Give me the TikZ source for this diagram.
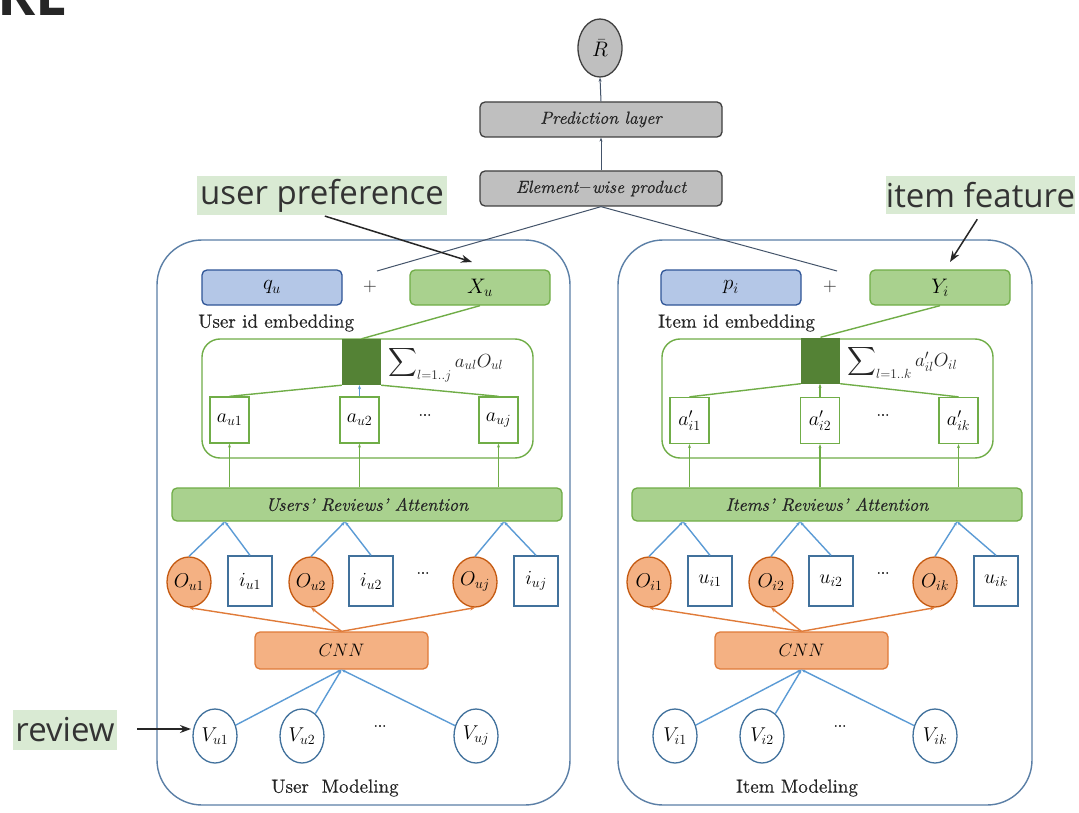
\RequirePackage{fix-cm}
\documentclass[tikz,border=0pt]{standalone}
\usepackage{fontspec}
\setmainfont{lmroman10-regular.otf}[
  ItalicFont=lmroman10-italic.otf,
  BoldFont=lmroman10-bold.otf,
  BoldItalicFont=lmroman10-bolditalic.otf,
  FakeBold=0.5]
\usetikzlibrary{shapes.geometric,arrows.meta,calc}
\newfontfamily\notefont{Open Sans}

\definecolor{panelblue}{HTML}{5B7FA6}
\definecolor{grayfill}{HTML}{BFBFBF}
\definecolor{grayline}{HTML}{3F3F3F}
\definecolor{idfill}{HTML}{B4C7E7}
\definecolor{idline}{HTML}{2F5597}
\definecolor{gfill}{HTML}{A9D18E}
\definecolor{gline}{HTML}{70AD47}
\definecolor{gdark}{HTML}{548235}
\definecolor{ofill}{HTML}{F4B183}
\definecolor{oline}{HTML}{C55A11}
\definecolor{olink}{HTML}{E07B39}
\definecolor{blink}{HTML}{5B9BD5}
\definecolor{nodeblue}{HTML}{41719C}
\definecolor{toplink}{HTML}{44546A}
\definecolor{notebg}{HTML}{D9EAD3}
\definecolor{notetext}{HTML}{333333}
\definecolor{labeltext}{HTML}{262626}

\tikzset{
  txt/.style={inner sep=0pt, text=labeltext, font=\fontsize{19}{20}\selectfont},
  graybox/.style={rectangle, rounded corners=5pt, draw=grayline, fill=grayfill,
    line width=1.3pt, minimum width=242pt, minimum height=35pt, text=labeltext,
    font=\fontsize{17.5}{19}\selectfont\itshape},
  topnode/.style={ellipse, draw=grayline, fill=grayfill, line width=1.3pt,
    minimum width=44pt, minimum height=58pt, inner sep=0pt, font=\fontsize{21}{21}\selectfont},
  idbox/.style={rectangle, rounded corners=5pt, draw=idline, fill=idfill,
    line width=1.3pt, minimum width=140pt, minimum height=35pt, font=\fontsize{21}{21}\selectfont},
  featbox/.style={idbox, draw=gline, fill=gfill},
  container/.style={rectangle, draw=gline, line width=1.4pt, rounded corners=18pt,
    minimum width=331pt, minimum height=119pt},
  wsum/.style={rectangle, fill=gdark, minimum width=39pt, minimum height=46pt, inner sep=0pt},
  abox/.style={rectangle, draw=gline, fill=white, line width=1.3pt,
    minimum width=39pt, minimum height=46pt, inner sep=0pt, font=\fontsize{20}{20}\selectfont},
  attn/.style={rectangle, draw=gline, fill=gfill, rounded corners=5pt, line width=1.3pt,
    minimum width=390pt, minimum height=33pt, text=labeltext,
    font=\fontsize{18}{20}\selectfont\itshape},
  onode/.style={ellipse, draw=oline, fill=ofill, line width=1.3pt,
    minimum width=44pt, minimum height=50pt, inner sep=0pt, font=\fontsize{20}{20}\selectfont},
  ibox/.style={rectangle, draw=nodeblue, fill=white, line width=1.3pt,
    minimum width=44pt, minimum height=50pt, inner sep=0pt, font=\fontsize{20}{20}\selectfont},
  cnnbox/.style={rectangle, draw=olink, fill=ofill, rounded corners=5pt, line width=1.3pt,
    minimum width=173pt, minimum height=37pt, font=\fontsize{18}{20}\selectfont},
  vnode/.style={ellipse, draw=nodeblue, fill=white, line width=1.3pt,
    minimum width=44pt, minimum height=54pt, inner sep=0pt, font=\fontsize{20}{20}\selectfont},
  panel/.style={draw=panelblue, line width=1.4pt, rounded corners=45pt},
  note/.style={fill=notebg, text=notetext, inner sep=0pt,
    font=\notefont\fontsize{33}{33}\selectfont},
  toplinkstyle/.style={draw=toplink, line width=1pt},
  uparrow/.style={toplinkstyle, -{Stealth[length=4pt,width=3pt]}},
  gconn/.style={draw=gline, line width=1.4pt},
  garrow/.style={gconn, -{Stealth[length=4pt,width=3pt]}},
  barrow/.style={draw=blink, line width=1.4pt, -{Stealth[length=4pt,width=3pt]}},
  oarrow/.style={draw=olink, line width=1.4pt, -{Stealth[length=5pt,width=4pt]}},
  notearrow/.style={draw=black!85, line width=1.5pt, -{Stealth[length=11pt,width=8pt]}},
  dotsnode/.style={inner sep=0pt, font=\fontsize{15}{15}\selectfont},
}

% large weighted-sum sign with its range set to the lower right
\newcommand{\bigsum}{\mathop{\vcenter{\hbox{\scalebox{2.0}{$\displaystyle\sum$}}}}\nolimits}

\begin{document}
\begin{tikzpicture}[x=1pt, y=-1pt]
\useasboundingbox (0,0) rectangle (1079,813);
\fill[white] (0,0) rectangle (1079,813);

% slide heading, only its lower edge is inside the frame
\begin{scope}
  \clip (0,0) rectangle (1079,813);
  \node[anchor=base west, inner sep=0pt, text=black!85,
        font=\notefont\bfseries\fontsize{58}{58}\selectfont] (heading) at (-3,16) {RE};
\end{scope}

% ---------- output stage ----------
\node[topnode] (R) at (600,48) {$\bar{R}$};
\node[graybox] (pred) at (601,119.5) {Prediction layer};
\node[graybox] (elem) at (601,188.5) {Element$-$wise product};
\draw[uparrow] (pred.north) -- (R.south);
\draw[uparrow] (elem.north) -- (pred.south);

% ---------- two modelling panels ----------
\draw[panel] (157,240) rectangle (570,805);
\draw[panel] (618,240) rectangle (1032,805);

% ===== user side =====
\node[idbox] (qu) at (272,287.5) {$q_u$};
\node[txt, font=\fontsize{19}{19}\selectfont] (plusU) at (370,287) {$+$};
\node[featbox] (Xu) at (480,287.5) {$X_u$};
\node[txt, anchor=west] (uemb) at (198,323) {User id embedding};

\node[container] (ucont) at (367.5,398.5) {};
\node[wsum] (usq) at (361.5,362) {};
\node[txt, anchor=west, font=\fontsize{19}{20}\selectfont] (usum) at (388,364)
  {$\bigsum_{l=1..j} a_{ul}O_{ul}$};
\node[abox] (au1) at (229.5,420) {$a_{u1}$};
\node[abox] (au2) at (359.5,420) {$a_{u2}$};
\node[abox] (auj) at (498.5,420) {$a_{uj}$};
\node[dotsnode] (udotsA) at (425,415) {...};
\draw[gconn] (au1.north) -- (usq.south west);
\draw[gconn] (auj.north) -- (usq.south east);
\draw[barrow] (au2.north) -- (usq.south -| au2.north);
\draw[gconn] (usq.north) -- (Xu.south);

\node[attn] (uatt) at (367,504.5) {Users' Reviews' Attention};
\draw[garrow] (uatt.north -| au1) -- (au1.south);
\draw[garrow] (uatt.north -| au2) -- (au2.south);
\draw[garrow] (uatt.north -| auj) -- (auj.south);

\node[onode] (Ou1) at (189,582) {$O_{u1}$};
\node[ibox]  (iu1) at (250,581) {$i_{u1}$};
\node[onode] (Ou2) at (311,582) {$O_{u2}$};
\node[ibox]  (iu2) at (371,581) {$i_{u2}$};
\node[dotsnode] (udotsB) at (423,573) {...};
\node[onode] (Ouj) at (475,582) {$O_{uj}$};
\node[ibox]  (iuj) at (536,581) {$i_{uj}$};

\coordinate (uap1) at (uatt.south -| 225,0);
\coordinate (uap2) at (uatt.south -| 345,0);
\coordinate (uap3) at (uatt.south -| 504,0);
\draw[barrow] (Ou1.north) -- (uap1);
\draw[barrow] (iu1.north) -- (uap1);
\draw[barrow] (Ou2.north) -- (uap2);
\draw[barrow] (iu2.north) -- (uap2);
\draw[barrow] (Ouj.north) -- (uap3);
\draw[barrow] (iuj.north) -- (uap3);

\node[cnnbox] (ucnn) at (341.5,650.5) {$CNN$};
\draw[oarrow] (ucnn.north) -- (Ou1.south);
\draw[oarrow] (ucnn.north) -- (Ou2.south);
\draw[oarrow] (ucnn.north) -- (Ouj.south);

\node[vnode] (Vu1) at (215,736) {$V_{u1}$};
\node[vnode] (Vu2) at (302,736) {$V_{u2}$};
\node[dotsnode] (udotsC) at (380,726) {...};
\node[vnode] (Vuj) at (476,736) {$V_{uj}$};
\draw[barrow] (Vu1) -- (ucnn.south);
\draw[barrow] (Vu2) -- (ucnn.south);
\draw[barrow] (Vuj) -- (ucnn.south);
\node[txt] (ulabel) at (335,788) {User\ \ Modeling};

% ===== item side =====
\node[idbox] (pi) at (731,287.5) {$p_i$};
\node[txt, font=\fontsize{19}{19}\selectfont] (plusI) at (830,287) {$+$};
\node[featbox] (Yi) at (940,287.5) {$Y_i$};
\node[txt, anchor=west] (iemb) at (658,323) {Item id embedding};

\node[container] (icont) at (827.5,398.5) {};
\node[wsum] (isq) at (820.5,360.5) {};
\node[txt, anchor=west, font=\fontsize{19}{20}\selectfont] (isum) at (847,362)
  {$\bigsum_{l=1..k} a'_{il}O_{il}$};
\node[abox] (ai1) at (689.5,420.5) {$a'_{i1}$};
\node[abox] (ai2) at (820,420.5) {$a'_{i2}$};
\node[abox] (aik) at (958.5,420.5) {$a'_{ik}$};
\node[dotsnode] (idotsA) at (883,415) {...};
\draw[gconn] (ai1.north) -- (isq.south west);
\draw[gconn] (aik.north) -- (isq.south east);
\draw[garrow] (ai2.north) -- (isq.south -| ai2.north);
\draw[gconn] (isq.north) -- (Yi.south);

\node[attn] (iatt) at (827,504.5) {Items' Reviews' Attention};
\draw[garrow] (iatt.north -| ai1) -- (ai1.south);
\draw[garrow] (iatt.north -| ai2) -- (ai2.south);
\draw[garrow] (iatt.north -| aik) -- (aik.south);

\node[onode] (Oi1) at (649,582) {$O_{i1}$};
\node[ibox]  (ui1) at (710,581) {$u_{i1}$};
\node[onode] (Oi2) at (771,582) {$O_{i2}$};
\node[ibox]  (ui2) at (831,581) {$u_{i2}$};
\node[dotsnode] (idotsB) at (883,573) {...};
\node[onode] (Oik) at (935,582) {$O_{ik}$};
\node[ibox]  (uik) at (996,581) {$u_{ik}$};

\coordinate (iap1) at (iatt.south -| 683,0);
\coordinate (iap2) at (iatt.south -| 800,0);
\coordinate (iap3) at (iatt.south -| 957,0);
\draw[barrow] (Oi1.north) -- (iap1);
\draw[barrow] (ui1.north) -- (iap1);
\draw[barrow] (Oi2.north) -- (iap2);
\draw[barrow] (ui2.north) -- (iap2);
\draw[barrow] (Oik.north) -- (iap3);
\draw[barrow] (uik.north) -- (iap3);

\node[cnnbox] (icnn) at (801.5,650.5) {$CNN$};
\draw[oarrow] (icnn.north) -- (Oi1.south);
\draw[oarrow] (icnn.north) -- (Oi2.south);
\draw[oarrow] (icnn.north) -- (Oik.south);

\node[vnode] (Vi1) at (675,736) {$V_{i1}$};
\node[vnode] (Vi2) at (762,736) {$V_{i2}$};
\node[dotsnode] (idotsC) at (840,726) {...};
\node[vnode] (Vik) at (935,736) {$V_{ik}$};
\draw[barrow] (Vi1) -- (icnn.south);
\draw[barrow] (Vi2) -- (icnn.south);
\draw[barrow] (Vik) -- (icnn.south);
\node[txt] (ilabel) at (797,788) {Item Modeling};

% ---------- merging into the element-wise product ----------
\coordinate (ujoin) at (377,271);
\coordinate (ijoin) at (837,271);
\draw[toplinkstyle] (elem.south) -- (ujoin);
\draw[toplinkstyle] (elem.south) -- (ijoin);

% ---------- annotations ----------
\node[note, minimum width=250pt, minimum height=39pt] (nuser) at (322,195.5) {user preference};
\node[note, minimum width=189pt, minimum height=38pt] (nitem) at (980.5,195) {item feature};
\node[note, minimum width=104pt, minimum height=40pt] (nrev) at (65,730) {review};
\coordinate (userTip) at (472,262);
\coordinate (itemTip) at (950,262);
\coordinate (revTip) at (191,729);
\draw[notearrow, shorten <=3pt] (nuser.south) -- (userTip);
\draw[notearrow, shorten <=6pt] (nitem.south) -- (itemTip);
\draw[notearrow] (137,729) -- (revTip);
\end{tikzpicture}
\end{document}
